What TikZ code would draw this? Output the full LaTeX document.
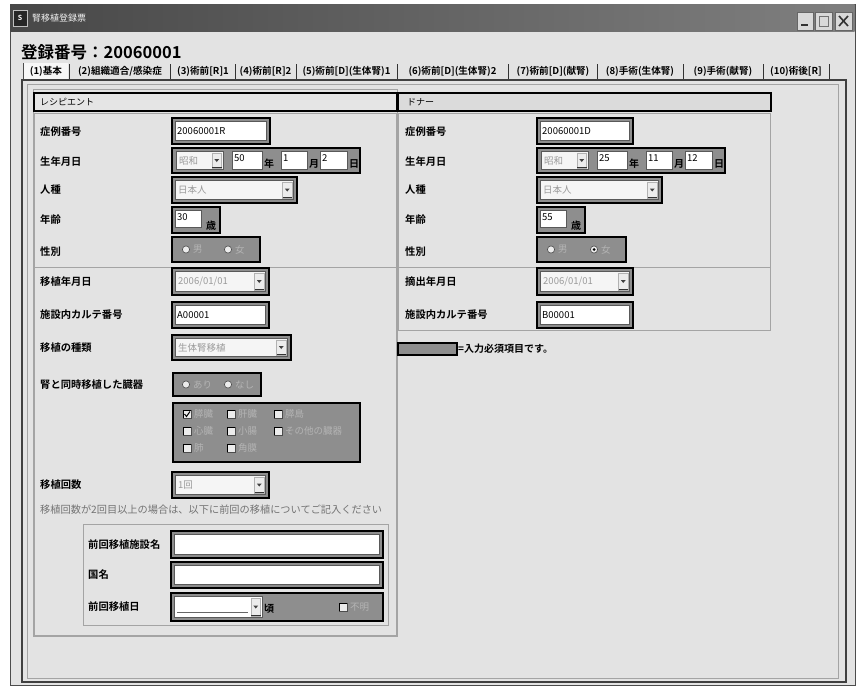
\documentclass[tikz,border=0pt]{standalone}
\usepackage{fontspec}
\setmainfont{Noto Sans CJK JP}[BoldFont={Noto Sans CJK JP Bold}]
\definecolor{bg}{HTML}{E3E3E3}
\definecolor{reqg}{HTML}{8E8E8E}
\definecolor{txtg}{HTML}{9A9A9A}
\definecolor{frameg}{HTML}{A4A4A4}
\definecolor{dimtxt}{HTML}{B4B4B4}
\newcommand\FormArrow[3]{%
  \draw[fill=gray!15, draw=gray!60] (#1-11,#2+1.5) rectangle (#1-1.5,#3-1.5);
  \fill[black!75] (#1-8.7,{(#2+#3)/2-1.5}) -- (#1-3.8,{(#2+#3)/2-1.5}) -- (#1-6.25,{(#2+#3)/2+1.5}) -- cycle;
  \draw[black!80, line width=0.8pt] (#1-11,#3-2) -- (#1-1.5,#3-2);}
\newcommand\FormRadio[3]{%
  \draw[fill=white!85!gray, draw=black!70, line width=0.6pt] (#1,#2) circle (3.6);
  \ifnum#3=1 \fill[black] (#1,#2) circle (1.5);\fi}
\newcommand\FormCheck[3]{%
  \draw[fill=white!85!gray, draw=black!70, line width=0.6pt] (#1-4,#2-4) rectangle (#1+4,#2+4);
  \draw[black, line width=1pt] (#1-4,#2+4) -- (#1-4,#2-4) -- (#1+4,#2-4);
  \ifnum#3=1 \draw[black, line width=1pt] (#1-2.5,#2) -- (#1-0.5,#2+2.5) -- (#1+3,#2-2.5);\fi}
\begin{document}
\begin{tikzpicture}[x=1pt,y=-1pt,
  lbl/.style={anchor=west, inner sep=0pt, font=\bfseries\fontsize{10.3}{11}\selectfont},
  val/.style={anchor=west, inner sep=0pt, font=\fontsize{9.5}{10}\selectfont},
  gval/.style={val, text=txtg},
  dval/.style={val, text=dimtxt},
  unitt/.style={anchor=center, inner sep=0pt, font=\bfseries\fontsize{10}{10}\selectfont},
  req/.style={draw=black, line width=1.8pt, fill=reqg},
  inbox/.style={draw=gray!70!black, line width=0.6pt, fill=white},
  ddbox/.style={draw=gray!70!black, line width=0.6pt, fill=white!92!gray},
  frame/.style={draw=frameg, line width=0.8pt},
  tabtxt/.style={font=\bfseries\fontsize{9.6}{10}\selectfont, inner sep=0pt, anchor=center},
  sep/.style={draw=black!80, line width=0.9pt}]
\useasboundingbox (0,0) rectangle (857,686);
\fill[white] (0,0) rectangle (857,686);
% window
\draw[fill=bg, draw=gray!60!black, line width=1pt] (10,4) rectangle (855,685);
\shade[left color=black!72, right color=black!50] (10.5,4.5) rectangle (854.5,31);
\draw[fill=black!85, draw=gray!50] (13,10) rectangle (27,26);
\node[text=white, font=\bfseries\fontsize{7}{7}\selectfont, inner sep=0pt] (icon) at (20,18) {S};
\node[anchor=west, text=white!90!gray, font=\fontsize{9}{9}\selectfont, inner sep=0pt] (wtitle) at (32,18) {腎移植登録票};
% window buttons
\draw[fill=gray!30, draw=black!60] (797,12) rectangle (813,30);
\draw[black!80, line width=2pt] (801,25) -- (808,25);
\draw[fill=gray!30, draw=black!60] (815,12) rectangle (832,30);
\draw[black!55, line width=0.8pt] (819,16) rectangle (828,26);
\draw[fill=gray!30, draw=black!60] (835,12) rectangle (852,30);
\draw[black!80, line width=1.6pt] (839,16) -- (848,26) (848,16) -- (839,26);
% heading
\node[anchor=west, inner sep=0pt, font=\bfseries\fontsize{16.5}{17}\selectfont] (heading) at (21,52) {登録番号：20060001};
% tabs
\fill[white!70!bg] (23,63) rectangle (68,80);
\node[tabtxt] (t1) at (46,71) {(1)基本};
\node[tabtxt] (t2) at (120,71) {(2)組織適合/感染症};
\node[tabtxt] (t3) at (203,71) {(3)術前[R]1};
\node[tabtxt] (t4) at (265.5,71) {(4)術前[R]2};
\node[tabtxt] (t5) at (346.5,71) {(5)術前[D](生体腎)1};
\node[tabtxt] (t6) at (452.5,71) {(6)術前[D](生体腎)2};
\node[tabtxt] (t7) at (553,71) {(7)術前[D](献腎)};
\node[tabtxt] (t8) at (640,71) {(8)手術(生体腎)};
\node[tabtxt] (t9) at (723,71) {(9)手術(献腎)};
\node[tabtxt] (t10) at (796,71) {(10)術後[R]};
\foreach \sx in {69,170,235,296,397,508,597,683,763,829}
  \draw[sep] (\sx,64) -- (\sx,79);
\draw[black!70, line width=0.8pt] (23,63) -- (23,80);
% content panel
\draw[draw=black!75, line width=1.6pt] (22,80) rectangle (846,682);
\draw[frame] (27,84) rectangle (838,678);
% group frames
\draw[frame] (33,89) rectangle (397,636);
\draw[draw=black, line width=1.5pt, fill=white!80!gray] (34,93) rectangle (397,111);
\node[anchor=west, inner sep=0pt, font=\fontsize{9}{9}\selectfont] (rhead) at (40,102) {レシピエント};
\draw[draw=black, line width=1.5pt, fill=white!72!gray] (398,93) rectangle (771,111);
\node[anchor=west, inner sep=0pt, font=\fontsize{9}{9}\selectfont] (dhead) at (407,102) {ドナー};
\draw[frame] (34,113) rectangle (396,635);
\draw[frame] (34,267) -- (396,267);
\draw[frame] (398,113) rectangle (770,330);
\draw[frame] (398,267) -- (770,267);

% ---------------- recipient ----------------
\node[lbl] (rl1) at (40,132) {症例番号};
\node[lbl] (rl2) at (40,162) {生年月日};
\node[lbl] (rl3) at (40,190) {人種};
\node[lbl] (rl4) at (40,220) {年齢};
\node[lbl] (rl5) at (40,252) {性別};
\node[lbl] (rl6) at (40,282) {移植年月日};
\node[lbl] (rl7) at (40,315) {施設内カルテ番号};
\node[lbl] (rl8) at (40,348) {移植の種類};
\node[lbl] (rl9) at (40,385) {腎と同時移植した臓器};
\node[lbl] (rl10) at (40,485) {移植回数};

\draw[req] (172,118) rectangle (270,144);
\draw[inbox] (175.5,121.5) rectangle (266.5,140.5);
\node[val] (rv1) at (177,131) {20060001R};

\draw[req] (172,148) rectangle (360,173);
\draw[ddbox] (176,151.5) rectangle (223,169.5);
\node[gval] (rv2a) at (179,160.5) {昭和};
\FormArrow{223}{151.5}{169.5}
\draw[inbox] (232,151.5) rectangle (262,169.5);
\node[val] (rv2b) at (234,158) {50};
\node[unitt] (ru2b) at (269,164) {年};
\draw[inbox] (281,151.5) rectangle (307,169.5);
\node[val] (rv2c) at (283,158) {1};
\node[unitt] (ru2c) at (314,164) {月};
\draw[inbox] (320,151.5) rectangle (347,169.5);
\node[val] (rv2d) at (322,158) {2};
\node[unitt] (ru2d) at (354,164) {日};

\draw[req] (172,177) rectangle (297,203);
\draw[ddbox] (175.5,180.5) rectangle (293.5,199.5);
\node[gval] (rv3) at (178,190) {日本人};
\FormArrow{293.5}{180.5}{199.5}

\draw[req] (172,207) rectangle (220,233);
\draw[inbox] (175.5,210.5) rectangle (201,227);
\node[val] (rv4) at (177,217) {30};
\node[unitt] (ru4) at (211,226) {歳};

\draw[req] (172,237) rectangle (260,262);
\FormRadio{186}{249.5}{0}
\node[dval] (rv5a) at (193,249.5) {男};
\FormRadio{228}{249.5}{0}
\node[dval] (rv5b) at (235,249.5) {女};

\draw[req] (172,268) rectangle (269,295);
\draw[ddbox] (175.5,271.5) rectangle (265.5,291.5);
\node[gval] (rv6) at (178,281.5) {2006/01/01};
\FormArrow{265.5}{271.5}{291.5}

\draw[req] (172,302) rectangle (269,328);
\draw[inbox] (175.5,305.5) rectangle (265.5,324.5);
\node[val] (rv7) at (177,315) {A00001};

\draw[req] (172,335) rectangle (291,360);
\draw[ddbox] (175.5,338.5) rectangle (287.5,356.5);
\node[gval] (rv8) at (178,347.5) {生体腎移植};
\FormArrow{287.5}{338.5}{356.5}

\draw[req] (173,373) rectangle (261,396);
\FormRadio{186}{384.5}{0}
\node[dval] (rv9a) at (193,384.5) {あり};
\FormRadio{228}{384.5}{0}
\node[dval] (rv9b) at (235,384.5) {なし};

\draw[req] (173,403) rectangle (360,462);
\FormCheck{187}{414}{1}
\node[dval] (c1) at (194,414) {膵臓};
\FormCheck{231}{414}{0}
\node[dval] (c2) at (238,414) {肝臓};
\FormCheck{278}{414}{0}
\node[dval] (c3) at (285,414) {膵島};
\FormCheck{187}{431}{0}
\node[dval] (c4) at (194,431) {心臓};
\FormCheck{231}{431}{0}
\node[dval] (c5) at (238,431) {小腸};
\FormCheck{278}{431}{0}
\node[dval] (c6) at (285,431) {その他の臓器};
\FormCheck{187}{448}{0}
\node[dval] (c7) at (194,448) {肺};
\FormCheck{231}{448}{0}
\node[dval] (c8) at (238,448) {角膜};

\draw[req] (172,472) rectangle (269,498);
\draw[ddbox] (175.5,475.5) rectangle (265.5,494.5);
\node[gval] (rv10) at (178,485) {1回};
\FormArrow{265.5}{475.5}{494.5}

\node[anchor=west, inner sep=0pt, text=black!55, font=\fontsize{10.2}{11}\selectfont] (note) at (40,510) {移植回数が2回目以上の場合は、以下に前回の移植についてご記入ください};

\draw[frame] (83,524) rectangle (388,625);
\node[lbl] (pl1) at (88,545) {前回移植施設名};
\node[lbl] (pl2) at (88,575) {国名};
\node[lbl] (pl3) at (88,607) {前回移植日};
\draw[req] (171,531) rectangle (383,558);
\draw[inbox] (174.5,534.5) rectangle (379.5,554.5);
\draw[req] (171,562) rectangle (383,588);
\draw[inbox] (174.5,565.5) rectangle (379.5,584.5);
\draw[req] (171,593) rectangle (383,621);
\draw[inbox] (174.5,596.5) rectangle (262,617.5);
\draw[black!60, line width=0.6pt] (177,612) -- (248,612);
\FormArrow{262}{596.5}{617.5}
\node[unitt] (pu) at (269,609) {頃};
\FormCheck{343}{607}{0}
\node[dval] (pv) at (350,607) {不明};

% ---------------- donor ----------------
\node[lbl] (dl1) at (405,132) {症例番号};
\node[lbl] (dl2) at (405,162) {生年月日};
\node[lbl] (dl3) at (405,190) {人種};
\node[lbl] (dl4) at (405,220) {年齢};
\node[lbl] (dl5) at (405,252) {性別};
\node[lbl] (dl6) at (405,282) {摘出年月日};
\node[lbl] (dl7) at (405,315) {施設内カルテ番号};

\draw[req] (537,118) rectangle (633,144);
\draw[inbox] (540.5,121.5) rectangle (629.5,140.5);
\node[val] (dv1) at (542,131) {20060001D};

\draw[req] (537,148) rectangle (725,173);
\draw[ddbox] (541,151.5) rectangle (588,169.5);
\node[gval] (dv2a) at (544,160.5) {昭和};
\FormArrow{588}{151.5}{169.5}
\draw[inbox] (597,151.5) rectangle (627,169.5);
\node[val] (dv2b) at (599,158) {25};
\node[unitt] (du2b) at (634,164) {年};
\draw[inbox] (646,151.5) rectangle (672,169.5);
\node[val] (dv2c) at (648,158) {11};
\node[unitt] (du2c) at (679,164) {月};
\draw[inbox] (685,151.5) rectangle (712,169.5);
\node[val] (dv2d) at (687,158) {12};
\node[unitt] (du2d) at (719,164) {日};

\draw[req] (537,177) rectangle (662,203);
\draw[ddbox] (540.5,180.5) rectangle (658.5,199.5);
\node[gval] (dv3) at (543,190) {日本人};
\FormArrow{658.5}{180.5}{199.5}

\draw[req] (537,207) rectangle (585,233);
\draw[inbox] (540.5,210.5) rectangle (566,227);
\node[val] (dv4) at (542,217) {55};
\node[unitt] (du4) at (576,226) {歳};

\draw[req] (537,237) rectangle (626,262);
\FormRadio{551}{249.5}{0}
\node[dval] (dv5a) at (558,249.5) {男};
\FormRadio{594}{249.5}{1}
\node[dval] (dv5b) at (601,249.5) {女};

\draw[req] (537,268) rectangle (633,295);
\draw[ddbox] (540.5,271.5) rectangle (629.5,291.5);
\node[gval] (dv6) at (543,281.5) {2006/01/01};
\FormArrow{629.5}{271.5}{291.5}

\draw[req] (537,302) rectangle (633,328);
\draw[inbox] (540.5,305.5) rectangle (629.5,324.5);
\node[val] (dv7) at (542,315) {B00001};

% legend
\draw[req] (398,343) rectangle (457,355);
\node[anchor=west, inner sep=0pt, font=\bfseries\fontsize{10}{10}\selectfont] (legend) at (458,349) {=入力必須項目です。};
\end{tikzpicture}
\end{document}
